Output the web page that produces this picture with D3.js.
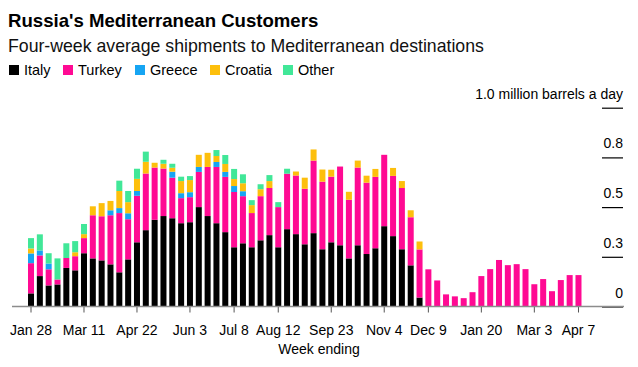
<!DOCTYPE html>
<html>
<head>
<meta charset="utf-8">
<script src="https://cdn.jsdelivr.net/npm/d3@7"></script>
<style>
  body { margin: 0; background: #fff; }
  text { font-family: "Liberation Sans", Arial, sans-serif; }
</style>
</head>
<body>
<div id="chart"></div>
<script>
// week ending dates (one bar per week)
const weeks = [
    "2022-01-28", "2022-02-04", "2022-02-11", "2022-02-18", "2022-02-25", "2022-03-04", "2022-03-11",
    "2022-03-18", "2022-03-25", "2022-04-01", "2022-04-08", "2022-04-15", "2022-04-22", "2022-04-29",
    "2022-05-06", "2022-05-13", "2022-05-20", "2022-05-27", "2022-06-03", "2022-06-10", "2022-06-17",
    "2022-06-24", "2022-07-01", "2022-07-08", "2022-07-15", "2022-07-22", "2022-07-29", "2022-08-05",
    "2022-08-12", "2022-08-19", "2022-08-26", "2022-09-02", "2022-09-09", "2022-09-16", "2022-09-23",
    "2022-09-30", "2022-10-07", "2022-10-14", "2022-10-21", "2022-10-28", "2022-11-04", "2022-11-11",
    "2022-11-18", "2022-11-25", "2022-12-02", "2022-12-09", "2022-12-16", "2022-12-23", "2022-12-30",
    "2023-01-06", "2023-01-13", "2023-01-20", "2023-01-27", "2023-02-03", "2023-02-10", "2023-02-17",
    "2023-02-24", "2023-03-03", "2023-03-10", "2023-03-17", "2023-03-24", "2023-03-31", "2023-04-07"
];

// million barrels a day
const italy = [
    0.066, 0.153, 0.106, 0.111, 0.194, 0.182, 0.268, 0.242, 0.232, 0.212, 0.172, 0.237, 0.323, 0.384,
    0.436, 0.455, 0.444, 0.419, 0.424, 0.500, 0.455, 0.419, 0.374, 0.298, 0.318, 0.298, 0.333, 0.359,
    0.298, 0.389, 0.364, 0.313, 0.369, 0.288, 0.323, 0.308, 0.242, 0.308, 0.264, 0.293, 0.404, 0.354,
    0.288, 0.207, 0.045, 0, 0, 0, 0, 0, 0, 0, 0, 0, 0, 0, 0, 0, 0, 0, 0, 0, 0
];
const turkey = [
    0.152, 0.104, 0.081, 0.025, 0.050, 0.071, 0.076, 0.217, 0.222, 0.247, 0.298, 0.202, 0.234, 0.285,
    0.263, 0.239, 0.204, 0.126, 0.126, 0.177, 0.247, 0.283, 0.278, 0.278, 0.237, 0.172, 0.222, 0.237,
    0.202, 0.279, 0.295, 0.279, 0.365, 0.340, 0.330, 0.396, 0.295, 0.391, 0.359, 0.359, 0.359, 0.303,
    0.308, 0.242, 0.242, 0.187, 0.131, 0.061, 0.051, 0.042, 0.072, 0.153, 0.188, 0.234, 0.208, 0.213,
    0.188, 0.112, 0.138, 0.077, 0.133, 0.158, 0.158
];
const greece = [
    0.049, 0.025, 0.029, 0, 0, 0, 0, 0, 0, 0.025, 0.025, 0.030, 0.024, 0,
    0, 0, 0.030, 0.025, 0.025, 0.025, 0, 0.025, 0.025, 0.030, 0.025, 0, 0, 0,
    0, 0, 0, 0, 0, 0, 0, 0, 0, 0, 0, 0, 0, 0, 0, 0, 0, 0, 0, 0, 0, 0, 0, 0,
    0, 0, 0, 0, 0, 0, 0, 0, 0, 0, 0
];
const croatia = [
    0.025, 0, 0, 0, 0, 0.020, 0.020, 0.045, 0.066, 0.047, 0.086, 0.056, 0.061, 0.059,
    0.024, 0.024, 0.020, 0.061, 0.061, 0.061, 0.071, 0.030, 0.040, 0.035, 0.040, 0.040, 0.035, 0.035,
    0, 0, 0.020, 0.056, 0.056, 0.061, 0.035, 0, 0.040, 0.035, 0.035, 0.040, 0, 0.040,
    0.035, 0.035, 0.040, 0, 0, 0, 0, 0, 0, 0, 0, 0, 0, 0, 0, 0, 0, 0, 0, 0, 0
];
const other = [
    0.052, 0.081, 0.052, 0.106, 0.074, 0.056, 0.051, 0, 0, 0, 0.052, 0.056, 0.051, 0.051,
    0, 0.020, 0.020, 0.022, 0.020, 0, 0, 0.030, 0.045, 0.051, 0.045, 0.025, 0.025, 0.030,
    0.025, 0.025, 0, 0, 0, 0, 0, 0, 0, 0, 0, 0, 0, 0, 0, 0, 0, 0, 0, 0, 0, 0, 0, 0,
    0, 0, 0, 0, 0, 0, 0, 0, 0, 0, 0
];

const seriesNames = ["Italy", "Turkey", "Greece", "Croatia", "Other"];
const seriesColors = ["#000000", "#ff0a93", "#16a5f3", "#fdbf0c", "#41e798"];

const xTickWeeks = ["2022-01-28", "2022-03-11", "2022-04-22", "2022-06-03", "2022-07-08", "2022-08-12",
    "2022-09-23", "2022-11-04", "2022-12-09", "2023-01-20", "2023-03-03", "2023-04-07"];
const yTicks = [0, 0.25, 0.5, 0.75, 1.0];
const yTickLabels = ["0", "0.3", "0.5", "0.8", "1.0 million barrels a day"];

const width = 638, height = 367;

const svg = d3.select('#chart')
    .append('svg')
    .attr('width', width)
    .attr('height', height);

// titles
svg.append('text')
    .attr('x', 8).attr('y', 27)
    .attr('font-size', '18.6px')
    .attr('font-weight', 'bold')
    .attr('fill', '#000')
    .text("Russia's Mediterranean Customers");
svg.append('text')
    .attr('x', 8).attr('y', 52)
    .attr('font-size', '17.7px')
    .attr('fill', '#111')
    .text('Four-week average shipments to Mediterranean destinations');

// legend
const legendX = [9, 63, 135, 210, 283];
const legend = svg.append('g')
    .selectAll('g')
    .data(seriesNames)
    .join('g')
    .attr('transform', (d, i) => `translate(${legendX[i]}, 65)`);
legend.append('rect')
    .attr('width', 10).attr('height', 10)
    .attr('fill', (d, i) => seriesColors[i]);
legend.append('text')
    .attr('x', 15).attr('y', 10)
    .attr('font-size', '14.5px')
    .attr('fill', '#000')
    .text(d => d);

// scales
const xScale = d3.scaleBand()
    .domain(weeks)
    .range([26.6, 582.9])
    .paddingInner(0.32)
    .paddingOuter(0.16);
const yScale = d3.scaleLinear()
    .domain([0, 1])
    .range([306.5, 107.7]);

// y axis on the right, labels sit above short rules
const yAxis = svg.append('g')
    .attr('transform', 'translate(623, 0)')
    .call(d3.axisLeft(yScale)
        .tickValues(yTicks)
        .tickSize(21)
        .tickFormat((d, i) => yTickLabels[i]));
yAxis.select('.domain').remove();
yAxis.selectAll('line').attr('stroke', '#000').attr('stroke-width', 1.2);
yAxis.selectAll('text')
    .attr('x', 0)
    .attr('y', -9.5)
    .attr('dy', null)
    .attr('text-anchor', 'end')
    .attr('font-family', '"Liberation Sans", Arial, sans-serif')
    .attr('font-size', '14px')
    .attr('fill', '#000');

// stacked bars
const rows = weeks.map((w, i) => ({
    week: w, Italy: italy[i], Turkey: turkey[i], Greece: greece[i], Croatia: croatia[i], Other: other[i]
}));
const stacked = d3.stack().keys(seriesNames)(rows);

svg.append('g')
    .selectAll('g')
    .data(stacked)
    .join('g')
    .attr('fill', (d, i) => seriesColors[i])
    .selectAll('rect')
    .data(d => d.filter(p => p[1] - p[0] > 0))
    .join('rect')
    .attr('x', d => xScale(d.data.week))
    .attr('y', d => yScale(d[1]))
    .attr('width', xScale.bandwidth())
    .attr('height', d => yScale(d[0]) - yScale(d[1]));

// x axis
const parseWeek = d3.timeParse('%Y-%m-%d');
const fmtWeek = d3.timeFormat('%b %-d');
const xAxis = svg.append('g')
    .attr('transform', 'translate(0, 306.5)')
    .call(d3.axisBottom(xScale)
        .tickValues(xTickWeeks)
        .tickSize(6)
        .tickSizeOuter(0)
        .tickFormat(d => fmtWeek(parseWeek(d))));
xAxis.select('.domain').remove();
xAxis.selectAll('line').attr('stroke', '#555');
xAxis.selectAll('text')
    .attr('y', 19)
    .attr('dy', '0.71em')
    .attr('font-family', '"Liberation Sans", Arial, sans-serif')
    .attr('font-size', '14px')
    .attr('fill', '#000');

svg.append('line')
    .attr('x1', 12).attr('x2', 624)
    .attr('y1', 306.5).attr('y2', 306.5)
    .attr('stroke', '#8c8c8c')
    .attr('stroke-width', 1.5);

svg.append('text')
    .attr('x', 319).attr('y', 354)
    .attr('text-anchor', 'middle')
    .attr('font-size', '14px')
    .attr('fill', '#000')
    .text('Week ending');
</script>
</body>
</html>
